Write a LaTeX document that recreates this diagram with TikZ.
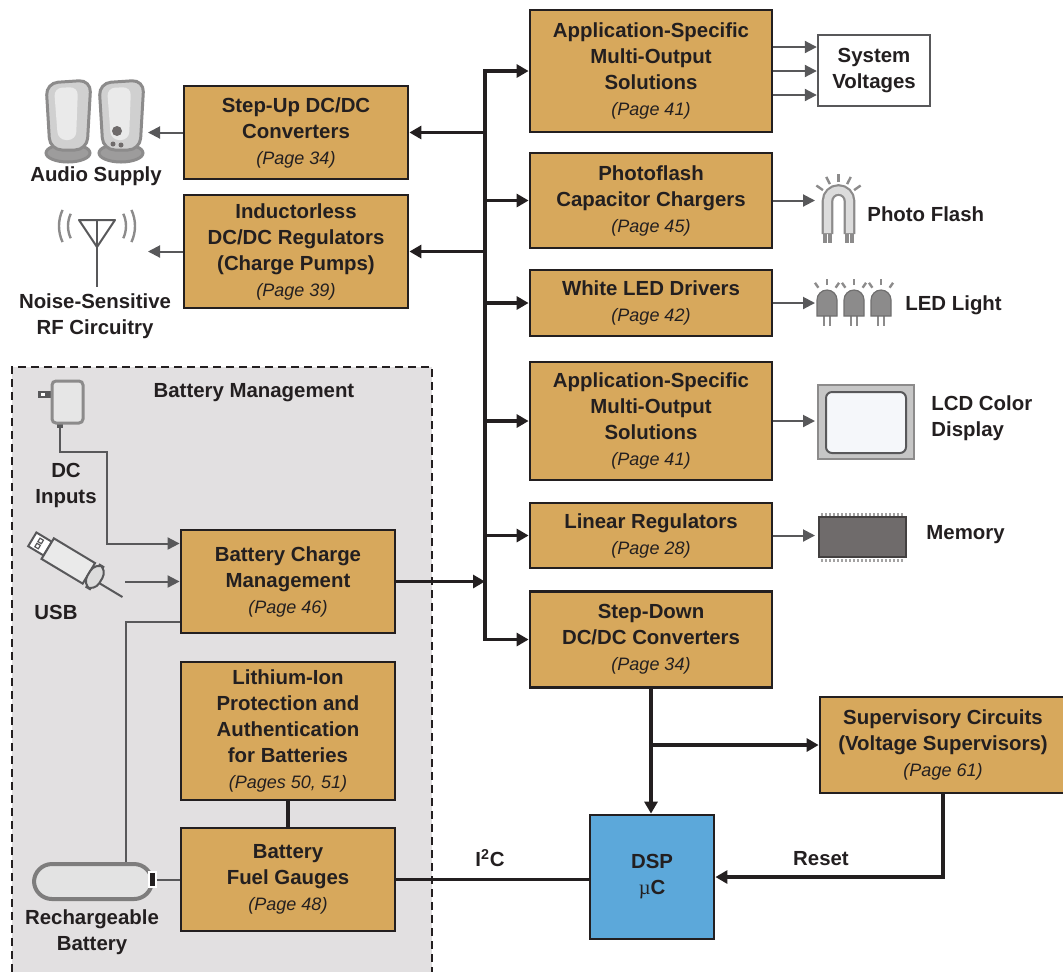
\documentclass[tikz,border=0pt]{standalone}
\usepackage{fontspec}
\setmainfont{Liberation Sans}
\newfontfamily\mufont{Liberation Serif}
\usetikzlibrary{arrows.meta,calc}
\definecolor{ink}{HTML}{231F20}
\definecolor{boxfill}{HTML}{D7A85C}
\definecolor{dspfill}{HTML}{5CA8DA}
\definecolor{zone}{HTML}{E2E0E1}
\definecolor{wire}{HTML}{58585A}
\definecolor{icondark}{HTML}{6F6B6B}
\definecolor{iconmid}{HTML}{8C8B8B}
\definecolor{iconlight}{HTML}{DCDCDC}
\definecolor{screen}{HTML}{F5F7FA}
\tikzset{
  lab/.style={text=ink, font=\bfseries\fontsize{10.2}{13}\selectfont, align=center, inner sep=0pt},
  blk/.style={lab, draw=ink, fill=boxfill, line width=1.4pt},
  bus/.style={draw=ink, line width=1.8pt, line cap=rect},
  busarr/.style={bus, -{Triangle[length=6pt,width=6.5pt]}},
  wirel/.style={draw=wire, line width=1pt},
  ax/.style={wirel, -{Triangle[length=6pt,width=6pt]}},
  icon/.style={draw=iconmid, line width=1.5pt},
  ray/.style={draw=iconmid, line width=1.2pt},
}
\newcommand{\pg}[1]{{\mdseries\itshape\fontsize{9}{13}\selectfont(#1)}}

\begin{document}
\begin{tikzpicture}[x=0.5pt, y=-0.5pt]
  \useasboundingbox (0,0) rectangle (1063,971);
  % battery management zone
  \draw[draw=ink, fill=zone, line width=1.3pt, dash pattern=on 4pt off 2.5pt] (12,985) -- (12,367) -- (432,367) -- (432,985);
  \node[lab] (bmlab) at (254,393) {Battery Management};

  % right column
  \node[blk, minimum width=121pt, minimum height=61pt] (asmoA) at (651,71) {Application-Specific\\Multi-Output\\Solutions\\\pg{Page 41}};
  \node[blk, minimum width=121pt, minimum height=47.5pt] (flash) at (651,200.5) {Photoflash\\Capacitor Chargers\\\pg{Page 45}};
  \node[blk, minimum width=121pt, minimum height=33pt] (led) at (651,303) {White LED Drivers\\\pg{Page 42}};
  \node[blk, minimum width=121pt, minimum height=59pt] (asmoB) at (651,421) {Application-Specific\\Multi-Output\\Solutions\\\pg{Page 41}};
  \node[blk, minimum width=121pt, minimum height=32.5pt] (linreg) at (651,535.5) {Linear Regulators\\\pg{Page 28}};
  \node[blk, minimum width=121pt, minimum height=48pt] (sd) at (651,639.5) {Step-Down\\DC/DC Converters\\\pg{Page 34}};
  \node[lab, draw=wire, fill=white, line width=1.2pt, minimum width=56pt, minimum height=35.5pt] (sysv) at (874,70.5) {System\\Voltages};

  % left column
  \node[blk, minimum width=112pt, minimum height=46.5pt] (stepup) at (296,132.5) {Step-Up DC/DC\\Converters\\\pg{Page 34}};
  \node[blk, minimum width=112pt, minimum height=56.5pt] (indless) at (296,251.5) {Inductorless\\DC/DC Regulators\\(Charge Pumps)\\\pg{Page 39}};
  \node[blk, minimum width=107pt, minimum height=51.5pt] (bc) at (288,581.5) {Battery Charge\\Management\\\pg{Page 46}};
  \node[blk, minimum width=107pt, minimum height=69pt] (li) at (288,731) {Lithium-Ion\\Protection and\\Authentication\\for Batteries\\\pg{Pages 50, 51}};
  \node[blk, minimum width=107pt, minimum height=51.5pt] (fuel) at (288,879.5) {Battery\\Fuel Gauges\\\pg{Page 48}};

  % processor side
  \node[lab, draw=ink, fill=dspfill, line width=1.4pt, minimum width=62pt, minimum height=62pt] (dsp) at (652,877) {DSP\\{\mufont\mdseries µ}C};
  \node[blk, minimum width=123pt, minimum height=48pt] (sup) at (943,745) {Supervisory Circuits\\(Voltage Supervisors)\\\pg{Page 61}};

  % power bus
  \coordinate (busx) at (485,0);
  \draw[bus] (busx |- asmoA.west) -- (busx |- sd.west);
  \foreach \n in {asmoA,flash,led,asmoB,linreg,sd}
    \draw[busarr] (busx |- \n.west) -- (\n.west);
  \draw[busarr] (busx |- stepup.east) -- (stepup.east);
  \draw[busarr] (busx |- indless.east) -- (indless.east);
  \draw[busarr] (bc.east) -- (bc.east -| busx);

  % processor links
  \draw[busarr] (sd.south) -- (sd.south |- dsp.north);
  \coordinate (sdbr) at (sd.south |- sup.west);
  \draw[busarr] (sdbr) -- (sup.west);
  \draw[busarr] (sup.south) |- (dsp.east);
  \draw[bus] (fuel.east) -- (fuel.east -| dsp.west);
  \draw[bus] (li.south) -- (fuel.north);
  \node[lab] (i2c) at (490,858) {I\textsuperscript{2}C};
  \node[lab] (reset) at (821,859) {Reset};

  % outputs
  \foreach \s in {12pt,0pt,-12pt}
    \draw[ax] ([yshift=\s]asmoA.east) -- ([yshift=\s]asmoA.east -| sysv.west);
  \coordinate (flashin) at (815,200.5);
  \coordinate (ledin) at (815,303);
  \coordinate (lcdin) at (815,421);
  \coordinate (memin) at (815,535.5);
  \coordinate (audioin) at (148,132.5);
  \coordinate (rfin) at (148,251.5);
  \draw[ax] (flash.east) -- (flashin);
  \draw[ax] (led.east) -- (ledin);
  \draw[ax] (asmoB.east) -- (lcdin);
  \draw[ax] (linreg.east) -- (memin);
  \draw[ax] (stepup.west) -- (audioin);
  \draw[ax] (indless.west) -- (rfin);

  % inputs
  \coordinate (dcplug) at (60,425);
  \coordinate (dcturn) at (107,452);
  \coordinate (usbout) at (125,581.5);
  \coordinate (battop) at (126,864);
  \coordinate (battip) at (156,879.5);
  \draw[ax] (dcplug) |- (dcturn) |- ([yshift=19pt]bc.west);
  \draw[ax] (usbout) -- (bc.west);
  \draw[wirel] ([yshift=-20pt]bc.west) -| (battop);
  \draw[wirel] (battip) -- (fuel.west);

  % speakers
  \foreach \sx in {0,53} {
    \draw[icon, fill=iconmid!85] ({68+\sx},153) ellipse (22 and 9);
    \draw[icon, fill=iconlight!85!iconmid, rounded corners=6pt] ({46+\sx},83) -- ({91+\sx},80) -- ({87+\sx},150) -- ({50+\sx},150) -- cycle;
    \fill[iconlight!60!white, rounded corners=4pt] ({54+\sx},88) -- ({78+\sx},87) -- ({76+\sx},140) -- ({58+\sx},140) -- cycle;
  }
  \fill[icondark] (117,131) circle (5);
  \fill[icondark] (113,144) circle (2.5);
  \fill[icondark] (121,145) circle (2.5);
  \node[lab] (audio) at (96,176) {Audio Supply};

  % antenna
  \draw[wire, line width=1pt] (97,220) -- (97,287);
  \draw[wire, line width=1pt, line join=round] (79,220) -- (115,220) -- (97,247) -- cycle;
  \foreach \r in {29,38} {
    \draw[ray] ($(97,226)+(155:\r)$) arc[start angle=155, end angle=205, radius=\r];
    \draw[ray] ($(97,226)+(-25:\r)$) arc[start angle=-25, end angle=25, radius=\r];
  }
  \node[lab] (rflab) at (95,316) {Noise-Sensitive\\RF Circuitry};

  % photo flash
  \draw[iconmid, line width=1.6pt] (825,232) -- (825,243) (830,232) -- (830,243);
  \draw[iconmid, line width=1.6pt] (847,232) -- (847,243) (852,232) -- (852,243);
  \draw[iconmid, line width=5.8pt] (827.5,234) -- (827.5,201) arc[start angle=180, end angle=360, radius=11] -- (849.5,234);
  \draw[iconlight, line width=3.6pt] (827.5,233) -- (827.5,201) arc[start angle=180, end angle=360, radius=11] -- (849.5,233);
  \foreach \a in {215,243,270,297,325}
    \draw[ray] ($(838.5,201)+(\a:19)$) -- ($(838.5,201)+(\a:27)$);
  \node[lab, anchor=west] (flashlab) at (867,214) {Photo Flash};

  % LEDs
  \foreach \lx in {817,844,871} {
    \draw[iconmid, line width=1.3pt] ({\lx+7},314) -- ({\lx+7},326) ({\lx+13},314) -- ({\lx+13},326);
    \draw[draw=iconmid!80!black, fill=iconmid, line width=0.6pt] (\lx,316) -- (\lx,300) arc[start angle=180, end angle=360, radius=10] -- ({\lx+20},316) -- cycle;
    \foreach \a in {235,270,305}
      \draw[ray] ($({\lx+10},300)+(\a:15)$) -- ($({\lx+10},300)+(\a:21)$);
  }
  \node[lab, anchor=west] (ledlab) at (905,305) {LED Light};

  % LCD
  \draw[draw=iconmid, fill=iconlight!90!black, line width=1pt] (818,385) rectangle (914,459);
  \draw[draw=wire, fill=screen, line width=1pt, rounded corners=3pt] (826,392) rectangle (906,453);
  \node[lab, anchor=west, align=left] (lcdlab) at (931,418) {LCD Color\\Display};

  % memory
  \draw[iconmid!80, line width=1.5pt, dash pattern=on 1pt off 1pt] (821,514) -- (904,514) (821,560) -- (904,560);
  \draw[draw=icondark!60!black, fill=icondark, line width=1.4pt] (819,517) rectangle (906,557);
  \node[lab, anchor=west] (memlab) at (926,535) {Memory};

  % wall adapter
  \fill[wire] (38,391) rectangle (52,398);
  \fill[white] (41,393) rectangle (45,396);
  \fill[wire] (57,422) rectangle (63,428);
  \draw[icon, fill=iconlight!70!white, rounded corners=2pt] (52,381) rectangle (83,423);
  \node[lab] (dclab) at (66,485) {DC\\Inputs};

  % USB stick
  \begin{scope}[shift={(70,562)}, rotate=-31]
    \draw[wire, line width=1pt] (30,3) -- (63,3);
    \draw[draw=wire, fill=white, line width=1pt] (-44,-8) rectangle (-26,8);
    \draw[wire, line width=0.6pt] (-38,-5) rectangle (-34,-1) (-38,1) rectangle (-34,5);
    \draw[draw=wire, fill=iconlight!60!white, line width=1pt] (-26,-12) rectangle (22,12);
    \draw[draw=wire, fill=iconlight, line width=1pt, rounded corners=5pt] (22,-13) -- (36,-13) -- (36,13) -- (22,13) -- cycle;
  \end{scope}
  \node[lab] (usblab) at (56,612) {USB};

  % rechargeable battery
  \draw[draw=iconmid!90!black, fill=iconlight!80!white, line width=2pt, rounded corners=9pt] (34,864) rectangle (152,899);
  \draw[draw=white, fill=ink, line width=0.8pt] (149,872) rectangle (156,887);
  \node[lab] (batlab) at (92,932) {Rechargeable\\Battery};
\end{tikzpicture}
\end{document}
